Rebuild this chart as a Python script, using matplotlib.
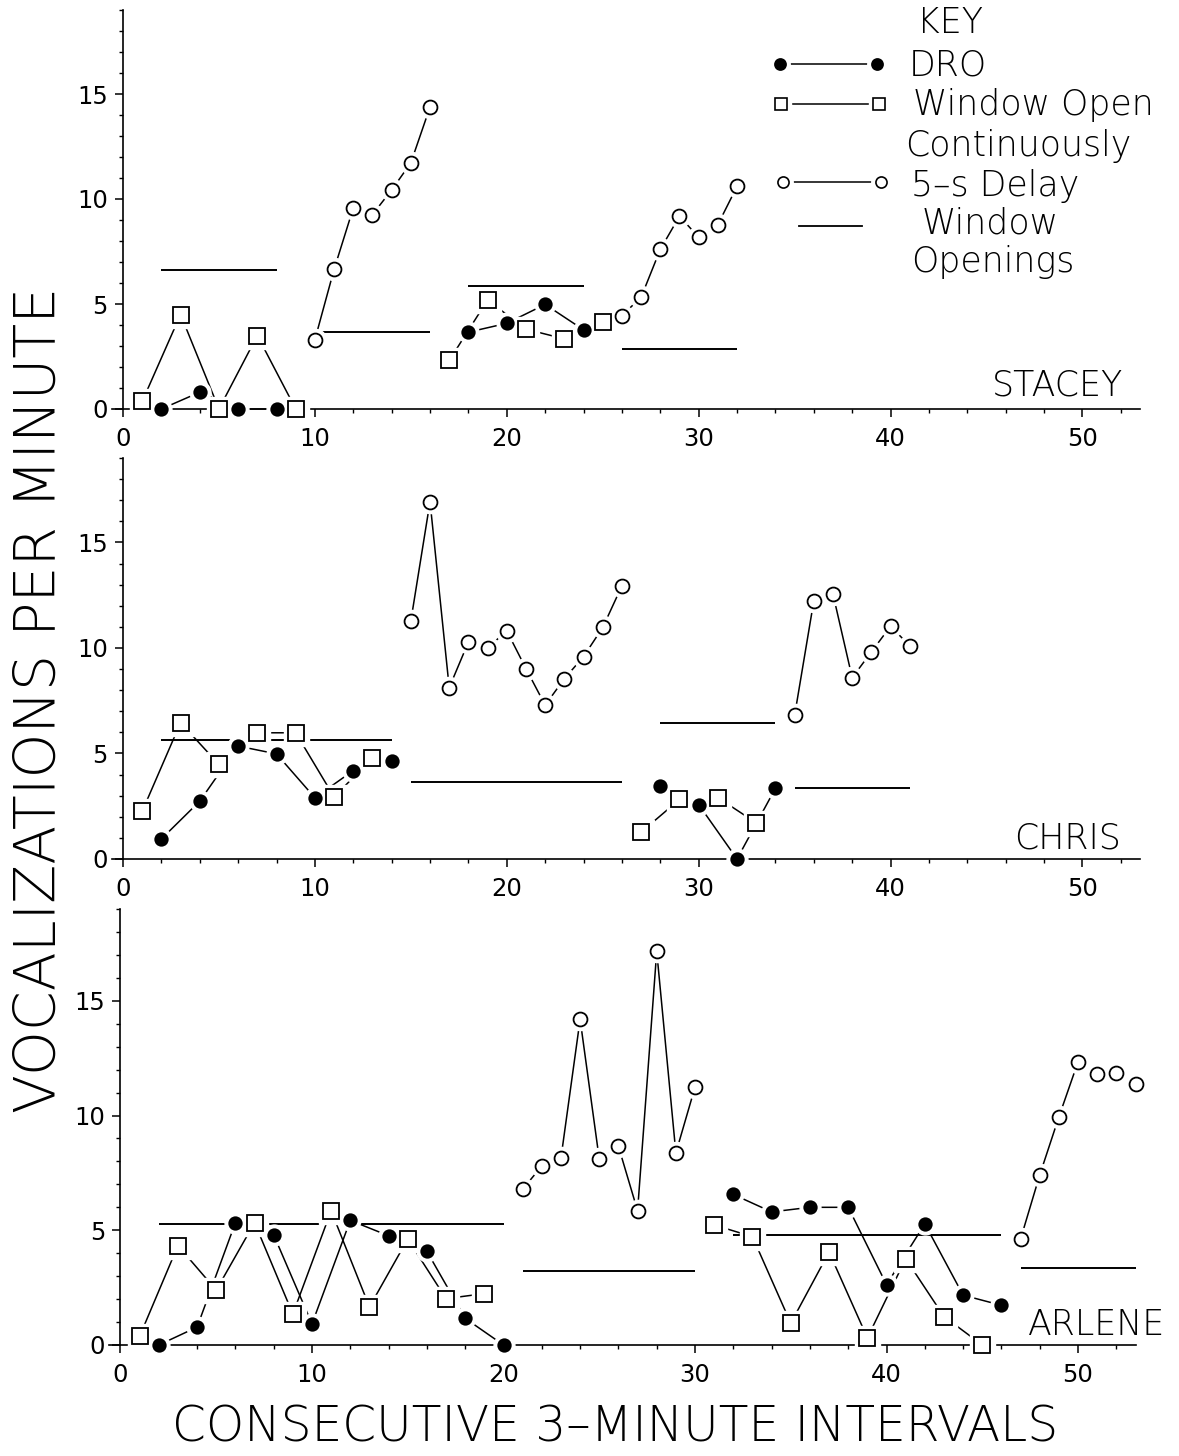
import matplotlib
matplotlib.use('Agg')
import matplotlib.pyplot as plt
from matplotlib.lines import Line2D
from matplotlib.ticker import MultipleLocator

plt.rcParams['font.family'] = ['DejaVu Sans']

# ---------------- DATA ----------------
# STACEY
stacey_woc1_x = [1, 3, 5, 7, 9]
stacey_woc1_y = [0.36, 4.5, 0.0, 3.5, 0.0]
stacey_dro1_x = [2, 4, 6, 8]
stacey_dro1_y = [0.0, 0.8, 0.0, 0.0]
stacey_del1_x = [10, 11, 12, 13, 14, 15, 16]
stacey_del1_y = [3.3, 6.65, 9.57, 9.26, 10.43, 11.72, 14.38]
stacey_woc2_x = [17, 19, 21, 23, 25]
stacey_woc2_y = [2.31, 5.19, 3.8, 3.34, 4.16]
stacey_dro2_x = [18, 20, 22, 24]
stacey_dro2_y = [3.66, 4.08, 4.98, 3.77]
stacey_del2_x = [26, 27, 28, 29, 30, 31, 32]
stacey_del2_y = [4.45, 5.32, 7.6, 9.18, 8.18, 8.78, 10.6]
stacey_win_start = [2, 10, 18, 26]
stacey_win_end = [8, 16, 24, 32]
stacey_win_level = [6.6, 3.67, 5.85, 2.85]

# CHRIS
chris_woc1_x = [1, 3, 5, 7, 9, 11, 13]
chris_woc1_y = [2.26, 6.46, 4.48, 5.98, 5.98, 2.94, 4.79]
chris_dro1_x = [2, 4, 6, 8, 10, 12, 14]
chris_dro1_y = [0.95, 2.74, 5.35, 4.98, 2.9, 4.19, 4.64]
chris_del1_x = [15, 16, 17, 18, 19, 20, 21, 22, 23, 24, 25, 26]
chris_del1_y = [11.28, 16.93, 8.12, 10.28, 10.0, 10.81, 9.02, 7.29, 8.54, 9.59, 10.97, 12.94]
chris_woc2_x = [27, 29, 31, 33]
chris_woc2_y = [1.27, 2.82, 2.91, 1.71]
chris_dro2_x = [28, 30, 32, 34]
chris_dro2_y = [3.48, 2.58, 0.0, 3.35]
chris_del2_x = [35, 36, 37, 38, 39, 40, 41]
chris_del2_y = [6.8, 12.23, 12.55, 8.59, 9.81, 11.03, 10.1]
chris_win_start = [2, 15, 28, 35]
chris_win_end = [14, 26, 34, 41]
chris_win_level = [5.66, 3.64, 6.44, 3.35]

# ARLENE
arlene_woc1_x = [1, 3, 5, 7, 9, 11, 13, 15, 17, 19]
arlene_woc1_y = [0.38, 4.33, 2.39, 5.33, 1.35, 5.85, 1.66, 4.62, 2.02, 2.24]
arlene_dro1_x = [2, 4, 6, 8, 10, 12, 14, 16, 18, 20]
arlene_dro1_y = [0.0, 0.78, 5.33, 4.8, 0.92, 5.43, 4.76, 4.08, 1.16, 0.0]
arlene_del1_x = [21, 22, 23, 24, 25, 26, 27, 28, 29, 30]
arlene_del1_y = [6.79, 7.8, 8.15, 14.19, 8.1, 8.66, 5.85, 17.15, 8.37, 11.24]
arlene_woc2_x = [31, 33, 35, 37, 39, 41, 43, 45]
arlene_woc2_y = [5.23, 4.72, 0.95, 4.05, 0.31, 3.76, 1.24, 0.0]
arlene_dro2_x = [32, 34, 36, 38, 40, 42, 44, 46]
arlene_dro2_y = [6.56, 5.8, 6.0, 6.0, 2.63, 5.28, 2.17, 1.73]
arlene_del2_x = [47, 48, 49, 50, 51, 52, 53]
arlene_del2_y = [4.62, 7.41, 9.94, 12.34, 11.83, 11.86, 11.38]
arlene_win_start = [2, 21, 32, 47]
arlene_win_end = [20, 30, 46, 53]
arlene_win_level = [5.28, 3.24, 4.79, 3.37]

names = ['STACEY', 'CHRIS', 'ARLENE']
y_ticks = [0, 5, 10, 15]
x_ticks = [0, 10, 20, 30, 40, 50]

# ---------------- FIGURE ----------------
W, H = 1179, 1456
fig = plt.figure(figsize=(W / 100, H / 100), dpi=100)


def fx(px):
    return px / W


def fy(py):
    return 1 - py / H


LW = 1.1
HALO = 6


def series(ax, xs, ys, marker, ms, face):
    ax.plot(xs, ys, '-', color='k', lw=LW, zorder=2, clip_on=False)
    ax.plot(xs, ys, linestyle='none', marker=marker, ms=ms + HALO,
            mfc='white', mec='white', zorder=3, clip_on=False)
    ax.plot(xs, ys, linestyle='none', marker=marker, ms=ms, mfc=face,
            mec='k', mew=1.3, zorder=4, clip_on=False)


def style_axes(ax):
    ax.set_xlim(-0.6, 53)
    ax.set_ylim(0, 19)
    ax.spines['top'].set_visible(False)
    ax.spines['right'].set_visible(False)
    ax.spines['left'].set_position(('data', 0))
    for s in ('left', 'bottom'):
        ax.spines[s].set_linewidth(1.2)
    ax.set_xticks(x_ticks)
    ax.set_yticks(y_ticks)
    ax.xaxis.set_minor_locator(MultipleLocator(2))
    ax.yaxis.set_minor_locator(MultipleLocator(1))
    ax.tick_params(axis='both', which='major', direction='out', length=6,
                   width=1.1, labelsize=17.5, pad=5)
    ax.tick_params(axis='both', which='minor', direction='out', length=3,
                   width=1.0)
    ax.tick_params(axis='x', which='major', pad=7)
    ax.patch.set_alpha(0)


panel_px = [  # (left_px, right_px, top_px, bottom_px)
    (111.5, 1140, 10, 409),
    (111.5, 1140, 458, 859),
    (109, 1135.5, 909, 1345),
]

data = [
    (stacey_woc1_x, stacey_woc1_y, stacey_dro1_x, stacey_dro1_y, stacey_del1_x, stacey_del1_y,
     stacey_woc2_x, stacey_woc2_y, stacey_dro2_x, stacey_dro2_y, stacey_del2_x, stacey_del2_y,
     stacey_win_start, stacey_win_end, stacey_win_level),
    (chris_woc1_x, chris_woc1_y, chris_dro1_x, chris_dro1_y, chris_del1_x, chris_del1_y,
     chris_woc2_x, chris_woc2_y, chris_dro2_x, chris_dro2_y, chris_del2_x, chris_del2_y,
     chris_win_start, chris_win_end, chris_win_level),
    (arlene_woc1_x, arlene_woc1_y, arlene_dro1_x, arlene_dro1_y, arlene_del1_x, arlene_del1_y,
     arlene_woc2_x, arlene_woc2_y, arlene_dro2_x, arlene_dro2_y, arlene_del2_x, arlene_del2_y,
     arlene_win_start, arlene_win_end, arlene_win_level),
]

name_pos = [(1123, 395), (1121, 848), (1165, 1335)]

for i, (l, r, t, b) in enumerate(panel_px):
    ax = fig.add_axes([fx(l), fy(b), (r - l) / W, (b - t) / H])
    style_axes(ax)
    (w1x, w1y, d1x, d1y, e1x, e1y, w2x, w2y, d2x, d2y, e2x, e2y,
     ws, we, wl) = data[i]
    ax.hlines(wl, ws, we, color='k', lw=1.4, zorder=2)
    series(ax, w1x, w1y, 's', 12, 'white')
    series(ax, d1x, d1y, 'o', 9, 'black')
    series(ax, e1x, e1y, 'o', 10, 'white')
    series(ax, w2x, w2y, 's', 12, 'white')
    series(ax, d2x, d2y, 'o', 9, 'black')
    series(ax, e2x, e2y, 'o', 10, 'white')
    nx, ny = name_pos[i]
    fig.text(fx(nx), fy(ny), names[i], ha='right', va='baseline',
             fontsize=25, fontweight='light')

# ---------------- KEY ----------------
def leg_marks(x1, x2, y, marker, ms, face):
    xs = [fx(x1), fx(x2)]
    ys = [fy(y), fy(y)]
    fig.add_artist(Line2D(xs, ys, color='k', lw=LW, transform=fig.transFigure, zorder=2))
    fig.add_artist(Line2D(xs, ys, linestyle='none', marker=marker, ms=ms + HALO,
                          mfc='white', mec='white', transform=fig.transFigure, zorder=3))
    fig.add_artist(Line2D(xs, ys, linestyle='none', marker=marker, ms=ms,
                          mfc=face, mec='k', mew=1.2, transform=fig.transFigure, zorder=4))


leg_marks(780, 877, 64, 'o', 8, 'black')
leg_marks(781, 879, 104, 's', 9, 'white')
leg_marks(783, 881, 182, 'o', 8, 'white')
fig.add_artist(Line2D([fx(799), fx(862)], [fy(226), fy(226)], color='k', lw=1.3,
                      transform=fig.transFigure))

LF = 25
fig.text(fx(917), fy(23), 'KEY', ha='left', va='center', fontsize=LF, fontweight='light')
fig.text(fx(909), fy(66), 'DRO', ha='left', va='center', fontsize=LF, fontweight='light')
fig.text(fx(913), fy(105), 'Window Open', ha='left', va='center', fontsize=LF, fontweight='light')
fig.text(fx(905), fy(146), 'Continuously', ha='left', va='center', fontsize=LF, fontweight='light')
fig.text(fx(911), fy(186), '5–s Delay', ha='left', va='center', fontsize=LF, fontweight='light')
fig.text(fx(922), fy(224), 'Window', ha='left', va='center', fontsize=LF, fontweight='light')
fig.text(fx(911), fy(262), 'Openings', ha='left', va='center', fontsize=LF, fontweight='light')

# ---------------- AXIS TITLES ----------------
fig.text(fx(40), fy(700), 'VOCALIZATIONS PER MINUTE', rotation=90, ha='center',
         va='center', fontsize=41, fontweight='light')
fig.text(fx(615), fy(1428), 'CONSECUTIVE 3–MINUTE INTERVALS', ha='center',
         va='center', fontsize=35, fontweight='light')

fig.savefig('out.png', dpi=100)
